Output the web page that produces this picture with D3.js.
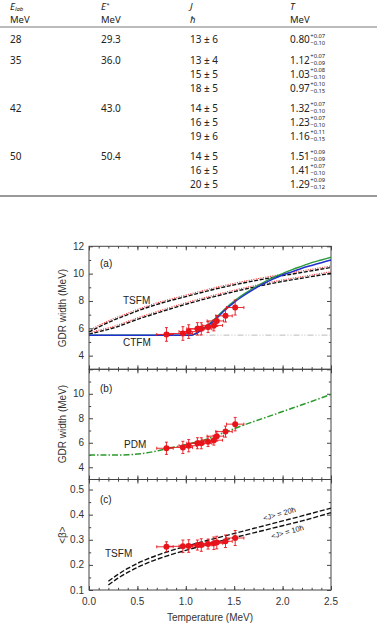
<!DOCTYPE html>
<html><head><meta charset="utf-8">
<script src="https://cdn.jsdelivr.net/npm/d3@7"></script>
<style>body{margin:0;background:#fff}svg{display:block}</style>
</head><body>
<script>
// ---------- table data ----------
const tabElab = ["28","35","","","42","","","50","",""];
const tabEx = ["29.3","36.0","","","43.0","","","50.4","",""];
const tabJ = ["13 ± 6","13 ± 4","15 ± 5","18 ± 5","14 ± 5","16 ± 5","19 ± 6","14 ± 5","16 ± 5","20 ± 5"];
const tabT = ["0.80","1.12","1.03","0.97","1.32","1.23","1.16","1.51","1.41","1.29"];
const tabTUp = ["+0.07","+0.07","+0.08","+0.10","+0.07","+0.07","+0.11","+0.09","+0.07","+0.09"];
const tabTDn = ["−0.10","−0.09","−0.10","−0.15","−0.10","−0.10","−0.15","−0.09","−0.10","−0.12"];
const tabRowY = [39.5, 60, 74, 88, 108, 122, 136, 156, 170, 184];

// ---------- chart data ----------
const ptT = [0.80, 0.97, 1.03, 1.12, 1.16, 1.23, 1.29, 1.32, 1.41, 1.51];
const ptTUp = [0.07, 0.10, 0.08, 0.07, 0.11, 0.07, 0.09, 0.07, 0.07, 0.09];
const ptTDn = [0.10, 0.15, 0.10, 0.09, 0.15, 0.10, 0.12, 0.10, 0.10, 0.09];
const ptWidth = [5.55, 5.62, 5.76, 5.96, 5.96, 6.09, 6.21, 6.54, 6.91, 7.52];
const ptWidthErr = [0.5, 0.5, 0.5, 0.45, 0.45, 0.4, 0.4, 0.4, 0.45, 0.55];
const ptBeta = [0.272, 0.274, 0.275, 0.279, 0.279, 0.283, 0.286, 0.289, 0.294, 0.307];
const ptBetaErr = [0.02, 0.025, 0.025, 0.02, 0.025, 0.02, 0.025, 0.025, 0.025, 0.03];

const tsfmT = [0, 0.1, 0.25, 0.42, 0.5, 0.75, 1.0, 1.25, 1.5, 1.75, 2.0, 2.25, 2.5];
const tsfmHi = [5.72, 6.1, 6.58, 7.05, 7.27, 7.85, 8.32, 8.78, 9.18, 9.53, 9.85, 10.15, 10.45];
const tsfmLo = [5.57, 5.75, 6.02, 6.45, 6.65, 7.22, 7.76, 8.24, 8.68, 9.08, 9.43, 9.73, 10.03];

const ctfmT = [0, 0.5, 1.0, 1.06, 1.1, 1.2, 1.3, 1.4, 1.5, 1.6, 1.7, 1.8, 1.9, 2.0, 2.1, 2.2, 2.3, 2.4, 2.5];
const ctfmBlue = [5.5, 5.5, 5.5, 5.5, 5.6, 6.05, 6.6, 7.3, 7.9, 8.4, 8.85, 9.25, 9.6, 9.9, 10.15, 10.4, 10.6, 10.8, 11.0];
const ctfmGreen = [5.5, 5.5, 5.5, 5.5, 5.62, 6.1, 6.7, 7.4, 8.0, 8.5, 8.95, 9.35, 9.7, 10.0, 10.3, 10.55, 10.8, 11.0, 11.2];
const flatT = [1.1, 2.5];
const flatW = [5.5, 5.5];

const pdmT = [0, 0.25, 0.4, 0.5, 0.6, 0.7, 0.8, 1.0, 1.2, 1.4, 1.5, 1.6, 1.8, 2.0, 2.2, 2.5];
const pdmW = [5.0, 5.0, 5.02, 5.08, 5.18, 5.33, 5.5, 5.85, 6.25, 6.85, 7.15, 7.45, 8.0, 8.55, 9.1, 9.95];

const betaT = [0.2, 0.3, 0.4, 0.5, 0.6, 0.8, 1.0, 1.2, 1.4, 1.6, 1.8, 2.0, 2.2, 2.5];
const beta20 = [0.135, 0.162, 0.186, 0.206, 0.223, 0.251, 0.274, 0.295, 0.315, 0.335, 0.355, 0.375, 0.395, 0.426];
const beta10 = [0.12, 0.147, 0.17, 0.19, 0.207, 0.235, 0.258, 0.279, 0.299, 0.318, 0.337, 0.356, 0.375, 0.408];

const xTicks = [0, 0.5, 1.0, 1.5, 2.0, 2.5];
const widthTicks = [4, 6, 8, 10, 12];
const widthTicksB = [4, 6, 8, 10];
const betaTicks = [0.1, 0.2, 0.3, 0.4, 0.5];

// ---------- svg ----------
const W = 377, H = 629;
const svg = d3.select("body").append("svg").attr("width", W).attr("height", H);

// ---------- table ----------
const tf = "'Noto Sans', 'DejaVu Sans', sans-serif";
const tcol = "#222";
const colX = [10, 101, 190, 290];
const tbl = svg.append("g").attr("font-family", tf).attr("font-size", 10).attr("fill", tcol);

function header(x, y, main, sub, sup) {
  const t = tbl.append("text").attr("x", x).attr("y", y).attr("font-style", "italic").attr("font-size", 9.5);
  t.append("tspan").text(main);
  if (sub) t.append("tspan").attr("font-size", 6).attr("dy", 1).text(sub);
  if (sup) t.append("tspan").attr("font-size", 6).attr("dy", -3).text(sup);
}
header(colX[0], 9.8, "E", "lab");
header(colX[1], 9.8, "E", null, "*");
header(colX[2], 9.8, "J");
header(colX[3], 9.8, "T");
[["MeV", false], ["MeV", false], ["ħ", true], ["MeV", false]].forEach(([t, it], i) => {
  tbl.append("text").attr("x", colX[i]).attr("y", 22.5).attr("font-size", 9.5)
    .attr("font-style", it ? "italic" : "normal").text(t);
});
tbl.append("line").attr("x1", 0).attr("x2", W).attr("y1", 27).attr("y2", 27).attr("stroke", "#555").attr("stroke-width", 0.8);
tbl.append("line").attr("x1", 0).attr("x2", W).attr("y1", 196).attr("y2", 196).attr("stroke", "#777").attr("stroke-width", 1.4);

tabRowY.forEach((cy, i) => {
  const by = cy + 3.5;
  if (tabElab[i]) tbl.append("text").attr("x", colX[0]).attr("y", by).text(tabElab[i]);
  if (tabEx[i]) tbl.append("text").attr("x", colX[1]).attr("y", by).text(tabEx[i]);
  tbl.append("text").attr("x", colX[2]).attr("y", by).text(tabJ[i]);
  const tt = tbl.append("text").attr("x", colX[3]).attr("y", by).text(tabT[i]);
  const w = tt.node().getComputedTextLength();
  tbl.append("text").attr("x", colX[3] + w + 0.5).attr("y", cy - 2).attr("font-size", 5.8).text(tabTUp[i]);
  tbl.append("text").attr("x", colX[3] + w + 0.5).attr("y", cy + 5.3).attr("font-size", 5.8).text(tabTDn[i]);
});

// ---------- chart ----------
const cf = "'Liberation Sans', Arial, sans-serif";
const x = d3.scaleLinear().domain([0, 2.5]).range([89, 331]);
const yA = d3.scaleLinear().domain([3, 12]).range([369.3, 246.3]);
const yB = d3.scaleLinear().domain([3, 12]).range([479.5, 369.3]);
const yC = d3.scaleLinear().domain([0.1, 0.54]).range([590, 479.5]);

const chart = svg.append("g").attr("font-family", cf);
const axCol = "#444";

function frame(y, yMajor, yMinor, labels, fmt) {
  const g = chart.append("g");
  const [y0, y1] = y.range();
  g.append("rect").attr("x", 89).attr("y", y1).attr("width", 242).attr("height", y0 - y1)
    .attr("fill", "none").attr("stroke", axCol).attr("stroke-width", 1);
  const xMinor = d3.range(0, 2.501, 0.1).map(v => +v.toFixed(2));
  const ax = [
    [d3.axisBottom(x).tickValues(xTicks).tickSize(-4).tickFormat(""), y0],
    [d3.axisBottom(x).tickValues(xMinor).tickSize(-2.2).tickFormat(""), y0],
    [d3.axisTop(x).tickValues(xTicks).tickSize(-4).tickFormat(""), y1],
    [d3.axisTop(x).tickValues(xMinor).tickSize(-2.2).tickFormat(""), y1]
  ];
  ax.forEach(([a, ty]) => {
    const gg = g.append("g").attr("transform", `translate(0,${ty})`).call(a);
    gg.select(".domain").remove();
    gg.selectAll("line").attr("stroke", axCol);
  });
  const ay = [
    [d3.axisLeft(y).tickValues(yMajor).tickSize(-4).tickFormat(""), 89],
    [d3.axisLeft(y).tickValues(yMinor).tickSize(-2.2).tickFormat(""), 89],
    [d3.axisRight(y).tickValues(yMajor).tickSize(-4).tickFormat(""), 331],
    [d3.axisRight(y).tickValues(yMinor).tickSize(-2.2).tickFormat(""), 331]
  ];
  ay.forEach(([a, tx]) => {
    const gg = g.append("g").attr("transform", `translate(${tx},0)`).call(a);
    gg.select(".domain").remove();
    gg.selectAll("line").attr("stroke", axCol);
  });
  g.selectAll("text.yl").data(labels).join("text")
    .attr("x", 84).attr("y", d => y(d) + 3.5).attr("text-anchor", "end")
    .attr("font-size", 10).attr("fill", "#333").text(fmt);
}

frame(yA, widthTicks, [5, 7, 9, 11], widthTicks, d => d);
frame(yB, [4, 6, 8, 10, 12], [5, 7, 9, 11], widthTicksB, d => d);
frame(yC, betaTicks, [0.15, 0.25, 0.35, 0.45], betaTicks, d => d.toFixed(1));

chart.selectAll("text.xl").data(xTicks).join("text")
  .attr("x", d => x(d)).attr("y", 605).attr("text-anchor", "middle")
  .attr("font-size", 10).attr("fill", "#333").text(d => d.toFixed(1));
chart.append("text").attr("x", 210).attr("y", 621).attr("text-anchor", "middle")
  .attr("font-size", 10).attr("fill", "#333").text("Temperature (MeV)");

function ytitle(cy, txt) {
  chart.append("text").attr("transform", `translate(66,${cy}) rotate(-90)`)
    .attr("text-anchor", "middle").attr("font-size", 10).attr("fill", "#333").text(txt);
}
ytitle(308, "GDR width (MeV)");
ytitle(424, "GDR width (MeV)");
ytitle(535, "<β>");

const line = (xs, ys, y) => d3.line().x((d, i) => x(xs[i])).y((d, i) => y(ys[i])).curve(d3.curveMonotoneX)(ys);

// panel a curves
const pa = chart.append("g");
pa.append("path").attr("d", line(flatT, flatW, yA)).attr("fill", "none").attr("stroke", "#aaa")
  .attr("stroke-width", 0.8).attr("stroke-dasharray", "6,2,1,2,1,2");
[tsfmHi, tsfmLo].forEach(arr => {
  pa.append("path").attr("d", line(tsfmT, arr, yA)).attr("fill", "none")
    .attr("stroke", "#111").attr("stroke-width", 1.4).attr("stroke-dasharray", "4,1.6");
  pa.append("path").attr("d", line(tsfmT, arr.map(v => v + 0.11), yA)).attr("fill", "none")
    .attr("stroke", "#f03a3a").attr("stroke-width", 1.1).attr("stroke-dasharray", "1.1,1.3");
});
pa.append("path").attr("d", line(ctfmT, ctfmGreen, yA)).attr("fill", "none").attr("stroke", "#2a9a3a").attr("stroke-width", 1.4);
pa.append("path").attr("d", line(ctfmT, ctfmBlue, yA)).attr("fill", "none").attr("stroke", "#1f2fd0").attr("stroke-width", 1.5);

// panel b
chart.append("path").attr("d", line(pdmT, pdmW, yB)).attr("fill", "none").attr("stroke", "#2a9a2a")
  .attr("stroke-width", 1.5).attr("stroke-dasharray", "6,2,1.5,2");

// panel c
[beta20, beta10].forEach(arr => {
  chart.append("path").attr("d", line(betaT, arr, yC)).attr("fill", "none").attr("stroke", "#111")
    .attr("stroke-width", 1.4).attr("stroke-dasharray", "5,2");
});

// data points
function points(yS, vals, errs) {
  const g = chart.append("g").attr("stroke", "#e8141b").attr("stroke-width", 0.9);
  ptT.forEach((t, i) => {
    const px = x(t), py = yS(vals[i]);
    const xl = x(t - ptTDn[i]), xr = x(t + ptTUp[i]);
    const yt = yS(vals[i] + errs[i]), yb = yS(vals[i] - errs[i]);
    g.append("line").attr("x1", xl).attr("x2", xr).attr("y1", py).attr("y2", py);
    g.append("line").attr("x1", xl).attr("x2", xl).attr("y1", py - 1.5).attr("y2", py + 1.5);
    g.append("line").attr("x1", xr).attr("x2", xr).attr("y1", py - 1.5).attr("y2", py + 1.5);
    g.append("line").attr("x1", px).attr("x2", px).attr("y1", yt).attr("y2", yb);
    g.append("line").attr("x1", px - 1.5).attr("x2", px + 1.5).attr("y1", yt).attr("y2", yt);
    g.append("line").attr("x1", px - 1.5).attr("x2", px + 1.5).attr("y1", yb).attr("y2", yb);
    g.append("circle").attr("cx", px).attr("cy", py).attr("r", 3).attr("fill", "#e8141b").attr("stroke", "none");
  });
}
points(yA, ptWidth, ptWidthErr);
points(yB, ptWidth, ptWidthErr);
points(yC, ptBeta, ptBetaErr);

const lab = (px, py, txt, size) => chart.append("text").attr("x", px).attr("y", py)
  .attr("font-size", size || 10).attr("fill", "#222").text(txt);
lab(100, 267, "(a)");
lab(100, 392, "(b)");
lab(100, 503, "(c)");
lab(123, 304, "TSFM");
lab(123, 346, "CTFM");
lab(124, 448, "PDM");
lab(105, 557, "TSFM");
chart.append("text").attr("transform", "translate(264,521) rotate(-16)").attr("font-size", 7.5).attr("fill", "#222").text("<J> = 20ħ");
chart.append("text").attr("transform", "translate(272,539) rotate(-16)").attr("font-size", 7.5).attr("fill", "#222").text("<J> = 10ħ");
</script>
</body></html>
